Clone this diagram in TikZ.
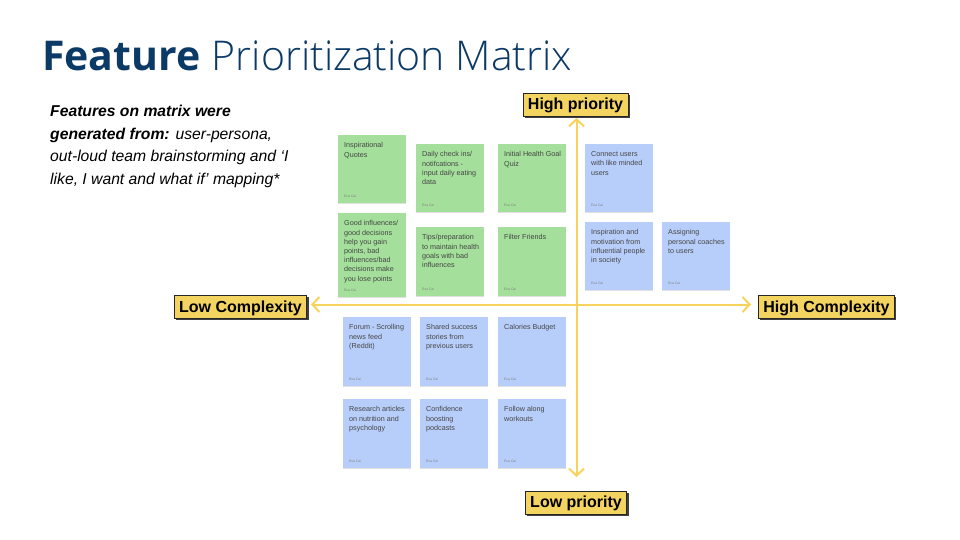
\documentclass[tikz,border=0pt]{standalone}
\usepackage{fontspec}
\setmainfont{Liberation Sans}
\newfontfamily\titlebold{Open Sans}
\newfontfamily\titlelight{Open Sans Light}
\usetikzlibrary{arrows.meta,shadows}
\definecolor{titleblue}{HTML}{0B3A66}
\definecolor{notegreen}{HTML}{A4DF9B}
\definecolor{noteblue}{HTML}{B8CEFA}
\definecolor{axisyellow}{HTML}{F7D35C}
\definecolor{tagyellow}{HTML}{F4D461}
\definecolor{notetextc}{HTML}{454545}
\tikzset{
  notebox/.style={rectangle, inner sep=0pt, minimum width=68pt, anchor=north west,
    drop shadow={shadow xshift=0pt, shadow yshift=-1pt, opacity=0.12, fill=black}},
  greennote/.style={notebox, fill=notegreen},
  bluenote/.style={notebox, fill=noteblue},
  notetext/.style={inner sep=0pt, anchor=north west, align=left, text=notetextc,
    font=\fontsize{7.2}{9.2}\selectfont},
  author/.style={inner sep=0pt, anchor=west, text=black!50, font=\fontsize{3.4}{4}\selectfont},
  tag/.style={rectangle, fill=tagyellow, draw=black!85, line width=0.8pt,
    font=\bfseries\fontsize{16}{18}\selectfont, inner xsep=5pt, inner ysep=0pt,
    text height=11.5pt, text depth=1pt, minimum height=23pt,
    drop shadow={shadow xshift=1.8pt, shadow yshift=-1.8pt, fill=black!75, opacity=1}},
  axis/.style={draw=axisyellow, line width=2pt,
    {Straight Barb[length=7pt,width=15pt]}-{Straight Barb[length=7pt,width=15pt]}},
  sidetext/.style={inner sep=0pt, anchor=base west, font=\fontsize{15.7}{22.5}\selectfont\itshape}
}
% name, x, y, height, style, text
\newcommand{\stickynote}[6]{%
  \node[#5, minimum height=#4pt] (#1) at (#2,#3) {};
  \node[notetext] (#1t) at ([xshift=6pt,yshift=-7.5pt]#1.north west) {#6};
  \node[author] (#1a) at ([xshift=6pt,yshift=7pt]#1.south west) {Eva Cai};
}
\begin{document}
\begin{tikzpicture}[x=1pt,y=-1pt]
\useasboundingbox[fill=white] (0,0) rectangle (960,540);

% title
\node[inner sep=0pt, anchor=base west, text=titleblue, font=\fontsize{41}{48}\selectfont] (title) at (42,71)
  {{\titlebold\bfseries Feature} {\titlelight Prioritization Matrix}};

% side text
\node[sidetext] (l1) at (50,117) {\bfseries Features on matrix were};
\node[sidetext] (l2) at (50,139.5) {{\bfseries generated from:} user-persona,};
\node[sidetext] (l3) at (50,162) {out-loud team brainstorming and ‘I};
\node[sidetext] (l4) at (50,184.5) {like, I want and what if’ mapping*};

% axes
\coordinate (vt) at (576.5,118);
\coordinate (vb) at (576.5,477);
\coordinate (hl) at (311,304.5);
\coordinate (hr) at (751,304.5);

% green notes
\stickynote{n1}{338}{135}{68}{greennote}{Inspirational\\Quotes}
\stickynote{n2}{416}{144}{68}{greennote}{Daily check ins/\\notifcations -\\input daily eating\\data}
\stickynote{n3}{498}{144}{68}{greennote}{Initial Health Goal\\Quiz}
\stickynote{n4}{338}{213}{84}{greennote}{Good influences/\\good decisions\\help you gain\\points, bad\\influences/bad\\decisions make\\you lose points}
\stickynote{n5}{416}{227}{69}{greennote}{Tips/preparation\\to maintain health\\goals with bad\\influences}
\stickynote{n6}{498}{227}{69}{greennote}{Filter Friends}

% blue notes, top right
\stickynote{n7}{585}{144}{68}{bluenote}{Connect users\\with like minded\\users}
\stickynote{n8}{585}{222}{68}{bluenote}{Inspiration and\\motivation from\\influential people\\in society}
\stickynote{n9}{662}{222}{68}{bluenote}{Assigning\\personal coaches\\to users}

% blue notes, bottom left
\stickynote{n10}{343}{317}{69}{bluenote}{Forum - Scrolling\\news feed\\(Reddit)}
\stickynote{n11}{420}{317}{69}{bluenote}{Shared success\\stories from\\previous users}
\stickynote{n12}{498}{317}{69}{bluenote}{Calories Budget}
\stickynote{n13}{343}{399}{69}{bluenote}{Research articles\\on nutrition and\\psychology}
\stickynote{n14}{420}{399}{69}{bluenote}{Confidence\\boosting\\podcasts}
\stickynote{n15}{498}{399}{69}{bluenote}{Follow along\\workouts}

\draw[axis] (vt) -- (vb);
\draw[axis] (hl) -- (hr);

% tags
\node[tag] (hp) at (575.5,104.5) {High priority};
\node[tag] (lp) at (576,502.5) {Low priority};
\node[tag] (lc) at (240.5,307) {Low Complexity};
\node[tag] (hc) at (826.5,307) {High Complexity};
\end{tikzpicture}
\end{document}
